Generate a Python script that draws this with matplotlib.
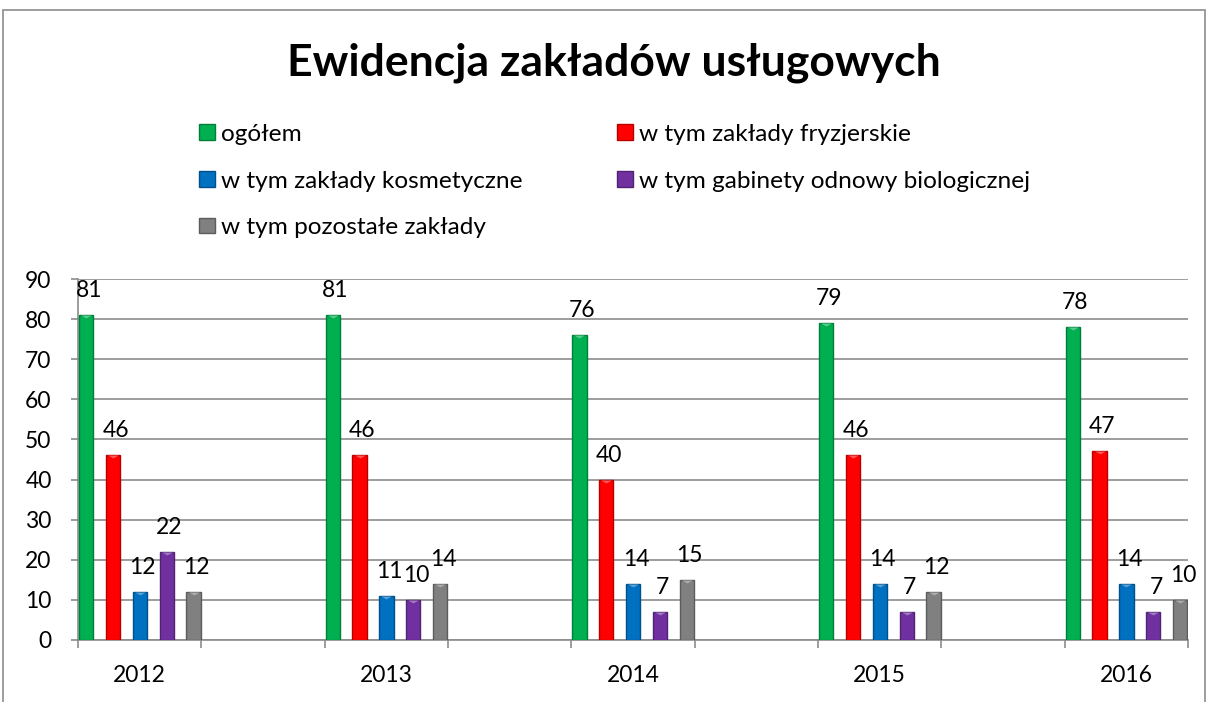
import numpy as np
import matplotlib
matplotlib.use('Agg')
import matplotlib.pyplot as plt
from matplotlib.patches import Patch, Rectangle
from matplotlib.path import Path
import matplotlib.colors as mcolors

plt.rcParams['font.family'] = ['Lato', 'DejaVu Sans']

years = ['2012', '2013', '2014', '2015', '2016']
series_names = ['ogółem', 'w tym zakłady fryzjerskie', 'w tym zakłady kosmetyczne',
                'w tym gabinety odnowy biologicznej', 'w tym pozostałe zakłady']
ogolem = [81, 81, 76, 79, 78]
fryzjerskie = [46, 46, 40, 46, 47]
kosmetyczne = [12, 11, 14, 14, 14]
gabinety = [22, 10, 7, 7, 7]
pozostale = [12, 14, 15, 12, 10]
colors = ['#00B050', '#FF0000', '#0070C0', '#7030A0', '#808080']

series = [ogolem, fryzjerskie, kosmetyczne, gabinety, pozostale]

W, H = 1208, 702
fig = plt.figure(figsize=(W / 100, H / 100), dpi=100)
ax = fig.add_axes([78 / W, (H - 640) / H, 1110 / W, 361 / H])

def shade(c, f):
    r, g, b = mcolors.to_rgb(c)
    return (r * f, g * f, b * f)

def light(c, f):
    r, g, b = mcolors.to_rgb(c)
    return (r + (1 - r) * f, g + (1 - g) * f, b + (1 - b) * f)

# flat triangle marker for the bevel look at the top of each bar
tri = Path([(-1, 0), (1, 0), (0, -0.55), (-1, 0)],
           [Path.MOVETO, Path.LINETO, Path.LINETO, Path.CLOSEPOLY])

ncat = 2 * len(years) - 1  # empty category between years
cat_pos = np.arange(len(years)) * 2
bw = 0.116
for k, (vals, col) in enumerate(zip(series, colors)):
    x = cat_pos - 0.5 + 0.065 + k * 0.218
    ax.bar(x, vals, width=bw, color=col, edgecolor=shade(col, 0.72), linewidth=1.0, zorder=3)
    ax.scatter(x, vals, marker=tri, s=60, color=light(col, 0.35), linewidths=0, zorder=4)
    for xi, v in zip(x, vals):
        ax.annotate(str(v), (xi, v), xytext=(2, 13), textcoords='offset points',
                    ha='center', va='baseline', fontsize=16.5, color='black',
                    annotation_clip=False, zorder=5)

ax.set_xlim(-0.5, ncat - 0.5)
ax.set_ylim(0, 90)
ax.set_yticks(range(0, 91, 10))
ax.yaxis.grid(True, color='#8c8c8c', linewidth=1.2, zorder=0)
ax.set_axisbelow(True)

ax.set_xticks(cat_pos)
ax.set_xticklabels(years)
ax.set_xticks(np.arange(-0.5, ncat, 1.0), minor=True)
ax.tick_params(axis='x', which='major', length=0, labelsize=16.5, pad=18)
ax.tick_params(axis='x', which='minor', length=6, width=1.2, color='#8c8c8c')
ax.tick_params(axis='y', length=5, width=1.2, color='#8c8c8c', labelsize=16.5, pad=14)

for s in ['top', 'right']:
    ax.spines[s].set_visible(False)
for s in ['left', 'bottom']:
    ax.spines[s].set_color('#8c8c8c')
    ax.spines[s].set_linewidth(1.2)

fig.text(0.508, (H - 63) / H, 'Ewidencja zakładów usługowych', ha='center', va='center',
         fontsize=32, fontweight='bold')

handles = [Patch(facecolor=c, edgecolor=shade(c, 0.72), label=n) for c, n in zip(colors, series_names)]
order = [0, 2, 4, 1, 3]
leg = fig.legend([handles[i] for i in order], [series_names[i] for i in order],
                 ncol=2, loc='upper left', bbox_to_anchor=(199 / W, (H - 124) / H),
                 frameon=False, fontsize=17.6, handlelength=0.65, handleheight=0.62,
                 handletextpad=0.25, labelspacing=1.045, columnspacing=3.85,
                 borderpad=0, borderaxespad=0)

fig.add_artist(Rectangle((3 / W, -0.1), 1202 / W, (H - 10) / H + 0.1, transform=fig.transFigure,
                         fill=False, edgecolor='#8c8c8c', linewidth=1.2))

fig.savefig('out.png', dpi=100)
